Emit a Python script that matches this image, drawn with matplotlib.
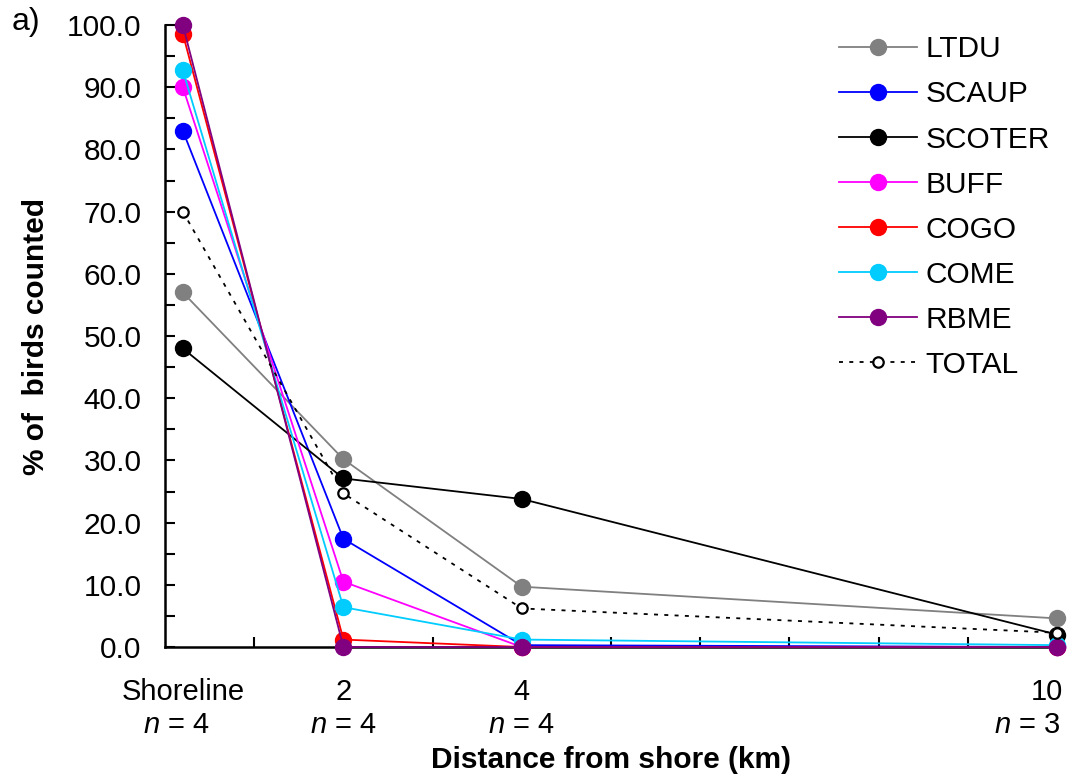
import matplotlib
matplotlib.use("Agg")
import matplotlib.pyplot as plt
from matplotlib.transforms import blended_transform_factory

plt.rcParams['font.family'] = ['Liberation Sans', 'DejaVu Sans']
plt.rcParams['mathtext.fontset'] = 'custom'
plt.rcParams['mathtext.it'] = 'Liberation Sans:italic'
plt.rcParams['mathtext.rm'] = 'Liberation Sans'

# data
distance_km = [0.2, 2, 4, 10]
tick_names = ["Shoreline", "2", "4", "10"]
n_labels = ["4", "4", "4", "3"]

ltdu = [57.0, 30.2, 9.7, 4.6]
scaup = [83.0, 17.4, 0.3, 0.0]
scoter = [48.0, 27.1, 23.8, 2.0]
buff = [90.0, 10.5, 0.0, 0.0]
cogo = [98.6, 1.2, 0.0, 0.0]
come = [92.7, 6.4, 1.2, 0.3]
rbme = [100.0, 0.0, 0.0, 0.0]
total = [70.0, 24.7, 6.2, 2.3]

series = [
    ("LTDU", ltdu, "#808080"),
    ("SCAUP", scaup, "#0000FF"),
    ("SCOTER", scoter, "#000000"),
    ("BUFF", buff, "#FF00FF"),
    ("COGO", cogo, "#FF0000"),
    ("COME", come, "#00CCFF"),
    ("RBME", rbme, "#800080"),
]

fig = plt.figure(figsize=(10.70, 7.82), dpi=100)
ax = fig.add_axes([0.1542, 0.1726, 0.8337, 0.7954])

for name, vals, col in series:
    ax.plot(distance_km, vals, color=col, lw=1.3, marker='o', ms=11.5,
            mfc=col, mec=col, label=name, clip_on=False, zorder=3)
ax.plot(distance_km, total, color='black', lw=1.3, ls=(0, (2.2, 3.5)), marker='o',
        ms=7.5, mfc='white', mec='black', mew=1.6, label="TOTAL", clip_on=False, zorder=3)

ax.set_xlim(0, 10)
ax.set_ylim(0, 100)
yt = [i * 5 for i in range(21)]
ax.set_yticks(yt)
ax.set_yticklabels([f"{v:.1f}" if v % 10 == 0 else "" for v in yt])
ax.set_xticks([1, 3, 5, 6, 7, 8, 9])
ax.set_xticklabels([])
ax.tick_params(axis='y', direction='in', length=7, width=1.5, labelsize=21.5, pad=17)
ax.tick_params(axis='x', direction='in', length=7, width=1.5)
for s in ['top', 'right']:
    ax.spines[s].set_visible(False)
for s in ['left', 'bottom']:
    ax.spines[s].set_linewidth(1.8)

trans = blended_transform_factory(ax.transData, ax.transAxes)
last = len(distance_km) - 1
for i, (x, nm, nn) in enumerate(zip(distance_km, tick_names, n_labels)):
    if i == last:
        ax.text(x + 0.07, -0.072, nm, transform=trans, ha='right', va='center', fontsize=21)
        ax.text(x + 0.04, -0.125, r"$\it{n}$" + " = " + nn, transform=trans,
                ha='right', va='center', fontsize=21)
    else:
        ax.text(x, -0.072, nm, transform=trans, ha='center', va='center', fontsize=21)
        ax.text(x - (0.07 if i == 0 else 0), -0.125, r"$\it{n}$" + " = " + nn, transform=trans,
                ha='center', va='center', fontsize=21)

ax.text(0.5, -0.182, "Distance from shore (km)", transform=ax.transAxes, ha='center',
        va='center', fontsize=21.5, fontweight='bold')
ax.set_ylabel("% of  birds counted", fontsize=21.5, fontweight='bold', labelpad=12)

fig.text(0.011, 0.972, "a)", fontsize=23, ha='left', va='center')

leg = ax.legend(loc='upper right', bbox_to_anchor=(1.012, 1.012), frameon=False, fontsize=21.5,
                handlelength=2.6, handletextpad=0.3, labelspacing=0.57, borderaxespad=0.2)

fig.savefig("out.png", dpi=100)
